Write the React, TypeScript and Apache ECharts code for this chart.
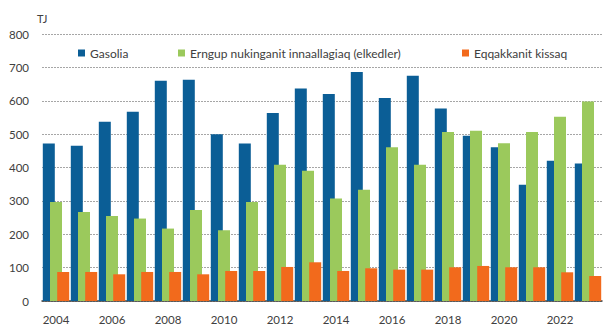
import React, { useEffect, useRef } from "react";
import * as echarts from "echarts";

const years = ["2004","2005","2006","2007","2008","2009","2010","2011","2012","2013","2014","2015","2016","2017","2018","2019","2020","2021","2022","2023"];
const gasolia = [472, 465, 537, 567, 660, 663, 500, 472, 563, 637, 620, 686, 608, 675, 577, 495, 461, 348, 420, 412];
const erngup = [297, 267, 255, 247, 217, 273, 212, 297, 408, 390, 307, 333, 461, 408, 506, 510, 473, 506, 552, 598];
const eqqakkanit = [87, 87, 80, 87, 87, 80, 90, 90, 102, 116, 90, 98, 94, 94, 101, 105, 101, 101, 86, 75];
const seriesNames = ["Gasolia", "Erngup nukinganit innaallagiaq (elkedler)", "Eqqakkanit kissaq"];
const colors = ["#0b5e96", "#9bc95c", "#f26a1c"];

export default function App() {
  const ref = useRef<HTMLDivElement>(null);
  useEffect(() => {
    const chart = echarts.init(ref.current!, null, { renderer: "svg" });
    const font = "Lato, 'Open Sans', sans-serif";
    const data = [gasolia, erngup, eqqakkanit];
    const legendLefts = [73, 173, 457];
    chart.setOption({
      animation: false,
      textStyle: { fontFamily: font },
      grid: { left: 42, right: 8, top: 34, bottom: 28 },
      legend: seriesNames.map((name, i) => ({
        top: 42,
        left: legendLefts[i],
        itemWidth: 7,
        itemHeight: 7,
        icon: "rect",
        textStyle: { fontSize: 12, color: "#404040", fontFamily: font },
        data: [name],
      })),
      graphic: [
        { type: "text", left: 37, top: 13, style: { text: "TJ", fontSize: 11, fill: "#404040", fontFamily: font } },
      ],
      xAxis: {
        type: "category",
        data: years,
        axisLine: { lineStyle: { color: "#404040", width: 1.5 } },
        axisTick: { show: false },
        axisLabel: { interval: 1, fontSize: 11.5, color: "#404040", margin: 12 },
      },
      yAxis: {
        type: "value",
        min: 0,
        max: 800,
        interval: 100,
        axisLine: { show: false },
        axisTick: { show: false },
        axisLabel: { fontSize: 11.5, color: "#404040", margin: 13 },
        splitLine: { lineStyle: { color: "#a6a6a6", type: [2, 1] } },
      },
      series: seriesNames.map((name, i) => ({
        name,
        type: "bar",
        data: data[i],
        barWidth: 12,
        barGap: "-40%",
        itemStyle: { color: colors[i] },
      })),
    });
    return () => chart.dispose();
  }, []);
  return <div ref={ref} style={{ position: "absolute", left: 0, top: 0, width: 610, height: 329 }} />;
}
